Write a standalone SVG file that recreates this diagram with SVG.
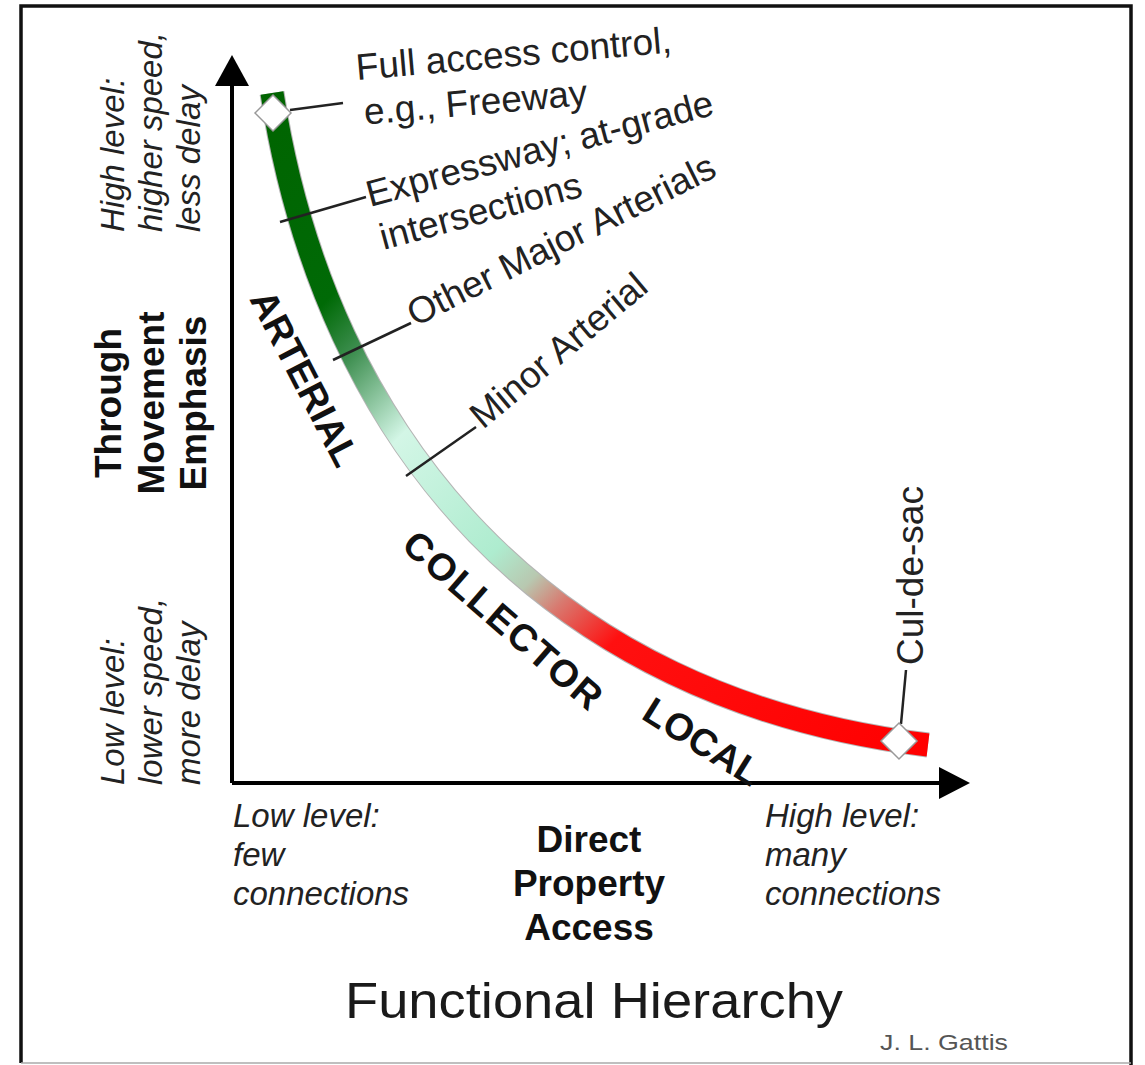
<svg xmlns="http://www.w3.org/2000/svg" width="1145" height="1065" viewBox="0 0 1145 1065">
<style>
text{font-family:"Liberation Sans",Arial,sans-serif;fill:#1a1a1a}
.lbl{font-size:37px;fill:#222}
.big{font-size:38px;font-weight:bold;fill:#111}
.it{font-size:33px;font-style:italic;fill:#222}
.ax{font-size:37px;font-weight:bold;fill:#111}
.lead{stroke:#222;stroke-width:2.5;fill:none}
.dia{fill:#fff;stroke:#999;stroke-width:1.5}
</style>
<defs>
<linearGradient id="band" gradientUnits="userSpaceOnUse" x1="272" y1="93" x2="928" y2="745">
<stop offset="0" stop-color="#006400"/>
<stop offset="0.2" stop-color="#006a06"/>
<stop offset="0.26" stop-color="#3d8e4f"/>
<stop offset="0.36" stop-color="#d3f6e6"/>
<stop offset="0.52" stop-color="#aeeccf"/>
<stop offset="0.57" stop-color="#b8c8b0"/>
<stop offset="0.61" stop-color="#d87a70"/>
<stop offset="0.68" stop-color="#ff1010"/>
<stop offset="1" stop-color="#ff0000"/>
</linearGradient>
</defs>
<rect width="1145" height="1065" fill="#fff"/>
<!-- frame -->
<path d="M21,1063 V6 H1131 V1065" fill="none" stroke="#111" stroke-width="3.5"/>
<line x1="21" y1="1063" x2="1131" y2="1063" stroke="#aaa" stroke-width="1.5"/>
<!-- axes -->
<g id="axes">
<path d="M232,783 V84" stroke="#000" stroke-width="4" fill="none"/>
<path d="M232,783 H942" stroke="#000" stroke-width="4" fill="none"/>
<polygon points="232,55 215,86 249,86" fill="#000"/>
<polygon points="970,783 939,767 939,799" fill="#000"/>
</g>
<!-- band -->
<g id="hierarchy-band">
<path d="M272,93 C326,443 548,699 928,745" fill="none" stroke="#777" stroke-width="25" stroke-opacity="0.55"/>
<path d="M272,93 C326,443 548,699 928,745" fill="none" stroke="url(#band)" stroke-width="23"/>
</g>
<!-- connectors -->
<g id="connectors">
<line class="lead" x1="290" y1="110" x2="343" y2="103"/>
<line class="lead" x1="280" y1="222" x2="366" y2="197"/>
<line class="lead" x1="333" y1="360" x2="411" y2="323"/>
<line class="lead" x1="406" y1="476" x2="476" y2="427"/>
<line class="lead" x1="901" y1="724" x2="906" y2="670"/>
</g>
<g id="freeway-marker"><polygon class="dia" points="273,95 291,113 273,131 255,113"/></g>
<g id="culdesac-marker"><polygon class="dia" points="899,723 917,741 899,759 881,741"/></g>
<!-- labels -->
<g id="freeway"><text class="lbl" transform="translate(357,80) rotate(-5)"><tspan x="0" y="0">Full access control,</tspan><tspan x="4" y="45">e.g., Freeway</tspan></text></g>
<g id="expressway"><text class="lbl" transform="translate(370,207) rotate(-15)"><tspan x="0" y="0">Expressway; at-grade</tspan><tspan x="2" y="45">intersections</tspan></text></g>
<g id="other-major"><text class="lbl" transform="translate(415,327) rotate(-26.5)">Other Major Arterials</text></g>
<g id="minor-arterial"><text class="lbl" transform="translate(483,430) rotate(-40)">Minor Arterial</text></g>
<g id="culdesac"><text class="lbl" transform="translate(923,665) rotate(-90)">Cul-de-sac</text></g>
<g id="arterial"><text class="big" transform="translate(249,299) rotate(62.7)">ARTERIAL</text></g>
<g id="collector"><text class="big" transform="translate(400,548) rotate(41)" textLength="250" lengthAdjust="spacing">COLLECTOR</text></g>
<g id="local"><text class="big" transform="translate(640,718) rotate(32)">LOCAL</text></g>
<!-- y-axis labels -->
<g id="y-high"><text class="it" transform="translate(124,232) rotate(-90)">High level:</text><text class="it" transform="translate(162,232) rotate(-90)">higher speed,</text><text class="it" transform="translate(200,232) rotate(-90)">less delay</text></g>
<g id="y-title"><text class="ax" text-anchor="middle" transform="translate(121,403) rotate(-90)">Through</text><text class="ax" text-anchor="middle" transform="translate(164,403) rotate(-90)">Movement</text><text class="ax" text-anchor="middle" transform="translate(206,403) rotate(-90)">Emphasis</text></g>
<g id="y-low"><text class="it" transform="translate(124,785) rotate(-90)">Low level:</text><text class="it" transform="translate(162,785) rotate(-90)">lower speed,</text><text class="it" transform="translate(200,785) rotate(-90)">more delay</text></g>
<!-- x-axis labels -->
<g id="x-low"><text class="it" x="233" y="827">Low level:</text><text class="it" x="233" y="866">few</text><text class="it" x="233" y="905">connections</text></g>
<g id="x-title"><text class="ax" text-anchor="middle" x="589" y="852">Direct</text><text class="ax" text-anchor="middle" x="589" y="896">Property</text><text class="ax" text-anchor="middle" x="589" y="940">Access</text></g>
<g id="x-high"><text class="it" x="765" y="827">High level:</text><text class="it" x="765" y="866">many</text><text class="it" x="765" y="905">connections</text></g>
<g id="title"><text x="345" y="1018" font-size="50" textLength="498" lengthAdjust="spacingAndGlyphs">Functional  Hierarchy</text></g>
<g id="credit"><text x="880" y="1050" font-size="22" style="fill:#555" textLength="128" lengthAdjust="spacingAndGlyphs">J. L. Gattis</text></g>
</svg>
